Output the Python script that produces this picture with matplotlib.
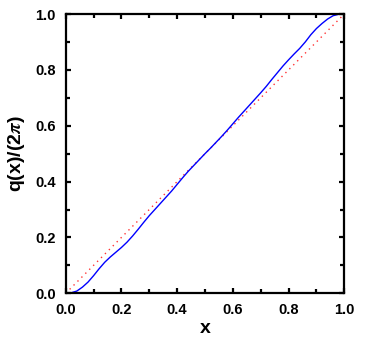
import matplotlib
matplotlib.use("Agg")
import matplotlib.pyplot as plt
from matplotlib.ticker import MultipleLocator

plt.rcParams['font.family'] = ['Liberation Sans', 'DejaVu Sans']
plt.rcParams['font.weight'] = 'bold'
plt.rcParams['mathtext.fontset'] = 'stix'

# q(x)/(2pi)
x_vals = [0.00, 0.02, 0.04, 0.06, 0.08, 0.10, 0.12, 0.14, 0.16, 0.18,
          0.20, 0.22, 0.24, 0.26, 0.28, 0.30, 0.32, 0.34, 0.36, 0.38,
          0.40, 0.42, 0.44, 0.46, 0.48, 0.50, 0.52, 0.54, 0.56, 0.58,
          0.60, 0.62, 0.64, 0.66, 0.68, 0.70, 0.72, 0.74, 0.76, 0.78,
          0.80, 0.82, 0.84, 0.86, 0.88, 0.90, 0.92, 0.94, 0.96, 0.98, 1.00]
q_vals = [0.000, 0.002, 0.008, 0.022, 0.040, 0.063, 0.088, 0.111, 0.130, 0.147,
          0.164, 0.183, 0.205, 0.229, 0.254, 0.278, 0.300, 0.322, 0.344, 0.366,
          0.390, 0.414, 0.437, 0.458, 0.479, 0.500, 0.520, 0.541, 0.562, 0.584,
          0.607, 0.630, 0.652, 0.674, 0.696, 0.718, 0.741, 0.766, 0.790, 0.814,
          0.836, 0.857, 0.877, 0.900, 0.926, 0.948, 0.966, 0.982, 0.994, 0.999, 1.000]
diag = [0.0, 1.0]

fig = plt.figure(figsize=(3.74, 3.40), dpi=100)
ax = fig.add_axes([0.1757, 0.1374, 0.7449, 0.8214])

ax.plot(diag, diag, color='red', lw=1.0, linestyle=(0, (1, 3)), alpha=0.8)
ax.plot(x_vals, q_vals, color='blue', lw=1.0)

ax.set_xlim(0, 1)
ax.set_ylim(0, 1)
ax.xaxis.set_major_locator(MultipleLocator(0.2))
ax.yaxis.set_major_locator(MultipleLocator(0.2))
ax.xaxis.set_minor_locator(MultipleLocator(0.1))
ax.yaxis.set_minor_locator(MultipleLocator(0.1))
ax.tick_params(which='both', direction='in', top=True, right=True,
               width=1.6, labelsize=10.5, pad=7)
ax.tick_params(which='major', length=3.5)
ax.tick_params(which='minor', length=3)
for lab in ax.get_xticklabels() + ax.get_yticklabels():
    lab.set_fontweight('bold')
for sp in ax.spines.values():
    sp.set_linewidth(1.6)

ax.set_xlabel('x', fontsize=14, fontweight='bold', labelpad=2)
ax.set_ylabel(r'q(x)/(2$\pi$)', fontsize=14, fontweight='bold', labelpad=6)

fig.savefig('out.png', dpi=100)
